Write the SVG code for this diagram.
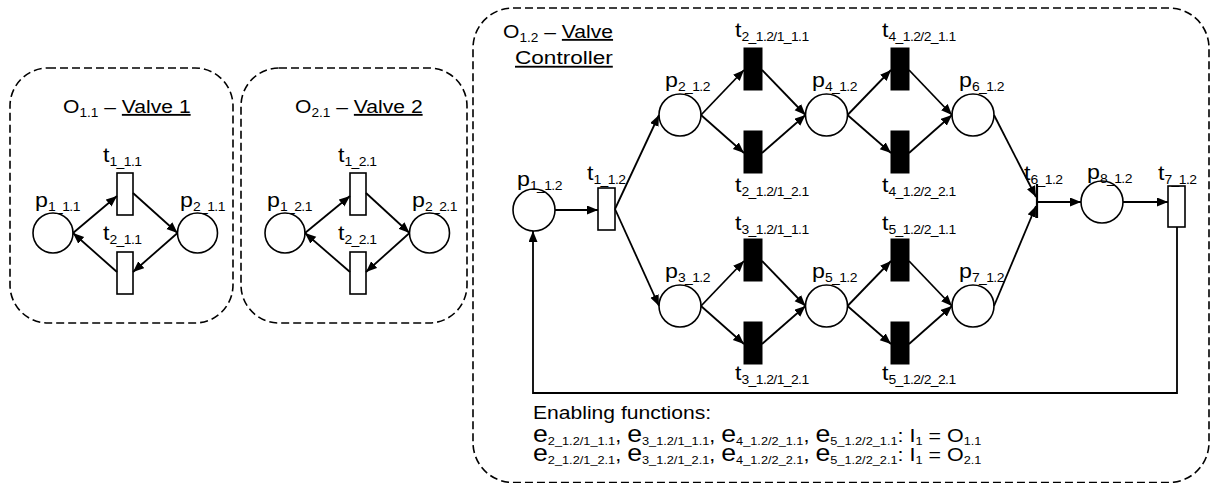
<svg xmlns="http://www.w3.org/2000/svg" width="1211" height="483" viewBox="0 0 1211 483">
  <style>
    text { font-family: "Liberation Sans", Arial, sans-serif; font-size: 18.5px; fill: #000; }
    .lb { font-size: 20px; }
    .s { font-size: 12px; letter-spacing: -0.5px; }
    .ts { font-size: 12px; }
    .e { font-size: 23px; }
    .es { font-size: 11px; }
    .u { text-decoration: underline; }
    .frame { fill: none; stroke: #000; stroke-width: 1.6; stroke-dasharray: 8 4; }
    .place { fill: #fff; stroke: #000; stroke-width: 1.6; }
    .trans { fill: #fff; stroke: #000; stroke-width: 1.6; }
    .trans-b { fill: #000; stroke: #000; stroke-width: 1; }
    .bar { stroke: #000; stroke-width: 2.2; }
    .arc { fill: none; stroke: #000; stroke-width: 1.8; marker-end: url(#head); }
  </style>
  <defs>
    <marker id="head" markerUnits="userSpaceOnUse" markerWidth="12" markerHeight="10" refX="11" refY="4.5" orient="auto">
      <path d="M0,0 L11,4.5 L0,9 z" fill="#000"/>
    </marker>
  </defs>
  <rect width="1211" height="483" fill="#fff"/>

  <!-- Valve 1 module -->
  <g id="valve1">
    <rect class="frame" x="10" y="68" width="223" height="255" rx="38"/>
    <text transform="matrix(1.14 0 0 1 63 113)">O<tspan class="ts" dy="4">1.1</tspan><tspan dy="-4"> – </tspan><tspan class="u">Valve 1</tspan></text>
    <g id="p1_1_1"><circle class="place" cx="53" cy="233" r="20"/><text class="lb" transform="matrix(1.16 0 0 1 35 207)">p<tspan class="s" dy="4">1_1.1</tspan></text></g>
    <g id="p2_1_1"><circle class="place" cx="197.5" cy="233" r="20"/><text class="lb" transform="matrix(1.16 0 0 1 180 207)">p<tspan class="s" dy="4">2_1.1</tspan></text></g>
    <g id="t1_1_1"><rect class="trans" x="117" y="173" width="16" height="42"/><text class="lb" transform="matrix(1.16 0 0 1 103 162)">t<tspan class="s" dy="4">1_1.1</tspan></text></g>
    <g id="t2_1_1"><rect class="trans" x="117" y="252" width="16" height="42"/><text class="lb" transform="matrix(1.16 0 0 1 103 240)">t<tspan class="s" dy="4">2_1.1</tspan></text></g>
  </g>

  <!-- Valve 2 module -->
  <g id="valve2">
    <rect class="frame" x="241" y="68" width="226" height="255" rx="38"/>
    <text transform="matrix(1.14 0 0 1 295 113)">O<tspan class="ts" dy="4">2.1</tspan><tspan dy="-4"> – </tspan><tspan class="u">Valve 2</tspan></text>
    <g id="p1_2_1"><circle class="place" cx="285" cy="233" r="20"/><text class="lb" transform="matrix(1.16 0 0 1 267 207)">p<tspan class="s" dy="4">1_2.1</tspan></text></g>
    <g id="p2_2_1"><circle class="place" cx="429.5" cy="233" r="20"/><text class="lb" transform="matrix(1.16 0 0 1 412 207)">p<tspan class="s" dy="4">2_2.1</tspan></text></g>
    <g id="t1_2_1"><rect class="trans" x="350" y="173" width="16" height="42"/><text class="lb" transform="matrix(1.16 0 0 1 338 162)">t<tspan class="s" dy="4">1_2.1</tspan></text></g>
    <g id="t2_2_1"><rect class="trans" x="350" y="252" width="16" height="42"/><text class="lb" transform="matrix(1.16 0 0 1 338 240)">t<tspan class="s" dy="4">2_2.1</tspan></text></g>
  </g>

  <!-- Valve controller module -->
  <g id="controller">
    <rect class="frame" x="473" y="8" width="736" height="474.5" rx="40"/>
    <text transform="matrix(1.14 0 0 1 503 38)">O<tspan class="ts" dy="4">1.2</tspan><tspan dy="-4"> – </tspan><tspan class="u">Valve</tspan></text>
    <text transform="matrix(1.22 0 0 1 515 64)"><tspan class="u">Controller</tspan></text>
  </g>

  <g id="p1_1_2"><circle class="place" cx="534" cy="210" r="21"/><text class="lb" transform="matrix(1.16 0 0 1 517 186)">p<tspan class="s" dy="4">1_1.2</tspan></text></g>
  <g id="t1_1_2"><rect class="trans" x="598" y="188" width="17" height="42"/><text class="lb" transform="matrix(1.16 0 0 1 587 180)">t<tspan class="s" dy="4">1_1.2</tspan></text></g>
  <g id="p2_1_2"><circle class="place" cx="680" cy="115" r="21"/><text class="lb" transform="matrix(1.16 0 0 1 665 87)">p<tspan class="s" dy="4">2_1.2</tspan></text></g>
  <g id="p3_1_2"><circle class="place" cx="680" cy="306" r="21"/><text class="lb" transform="matrix(1.16 0 0 1 665 278)">p<tspan class="s" dy="4">3_1.2</tspan></text></g>
  <g id="t2_a"><rect class="trans-b" x="744" y="48" width="18" height="42"/><text class="lb" transform="matrix(1.16 0 0 1 735 37)">t<tspan class="s" dy="4">2_1.2/1_1.1</tspan></text></g>
  <g id="t2_b"><rect class="trans-b" x="744" y="131" width="18" height="42"/><text class="lb" transform="matrix(1.16 0 0 1 735 192)">t<tspan class="s" dy="4">2_1.2/1_2.1</tspan></text></g>
  <g id="t3_a"><rect class="trans-b" x="744" y="239" width="18" height="42"/><text class="lb" transform="matrix(1.16 0 0 1 735 230)">t<tspan class="s" dy="4">3_1.2/1_1.1</tspan></text></g>
  <g id="t3_b"><rect class="trans-b" x="744" y="322" width="18" height="42"/><text class="lb" transform="matrix(1.16 0 0 1 735 380)">t<tspan class="s" dy="4">3_1.2/1_2.1</tspan></text></g>
  <g id="p4_1_2"><circle class="place" cx="826.5" cy="115" r="21"/><text class="lb" transform="matrix(1.16 0 0 1 812 87)">p<tspan class="s" dy="4">4_1.2</tspan></text></g>
  <g id="p5_1_2"><circle class="place" cx="826.5" cy="306" r="21"/><text class="lb" transform="matrix(1.16 0 0 1 812 278)">p<tspan class="s" dy="4">5_1.2</tspan></text></g>
  <g id="t4_a"><rect class="trans-b" x="891" y="48" width="18" height="42"/><text class="lb" transform="matrix(1.16 0 0 1 882 37)">t<tspan class="s" dy="4">4_1.2/2_1.1</tspan></text></g>
  <g id="t4_b"><rect class="trans-b" x="891" y="131" width="18" height="42"/><text class="lb" transform="matrix(1.16 0 0 1 882 192)">t<tspan class="s" dy="4">4_1.2/2_2.1</tspan></text></g>
  <g id="t5_a"><rect class="trans-b" x="891" y="239" width="18" height="42"/><text class="lb" transform="matrix(1.16 0 0 1 882 230)">t<tspan class="s" dy="4">5_1.2/2_1.1</tspan></text></g>
  <g id="t5_b"><rect class="trans-b" x="891" y="322" width="18" height="42"/><text class="lb" transform="matrix(1.16 0 0 1 882 380)">t<tspan class="s" dy="4">5_1.2/2_2.1</tspan></text></g>
  <g id="p6_1_2"><circle class="place" cx="973" cy="115" r="21"/><text class="lb" transform="matrix(1.16 0 0 1 959 87)">p<tspan class="s" dy="4">6_1.2</tspan></text></g>
  <g id="p7_1_2"><circle class="place" cx="973" cy="306" r="21"/><text class="lb" transform="matrix(1.16 0 0 1 959 278)">p<tspan class="s" dy="4">7_1.2</tspan></text></g>
  <g id="t6_1_2"><line class="bar" x1="1037" y1="184" x2="1037" y2="218"/><text class="lb" transform="matrix(1.16 0 0 1 1024 180)">t<tspan class="s" dy="4">6_1.2</tspan></text></g>
  <g id="p8_1_2"><circle class="place" cx="1102" cy="202" r="21"/><text class="lb" transform="matrix(1.16 0 0 1 1087 179)">p<tspan class="s" dy="4">8_1.2</tspan></text></g>
  <g id="t7_1_2"><rect class="trans" x="1168" y="186" width="17" height="41"/><text class="lb" transform="matrix(1.16 0 0 1 1158 180)">t<tspan class="s" dy="4">7_1.2</tspan></text></g>

  <!-- Enabling functions legend -->
  <g id="enabling">
    <text transform="matrix(1.14 0 0 1 533 419)">Enabling functions:</text>
    <text transform="matrix(1.16 0 0 1 533 442)"><tspan class="e">e</tspan><tspan class="es" dy="3">2_1.2/1_1.1</tspan><tspan dy="-3">, </tspan><tspan class="e">e</tspan><tspan class="es" dy="3">3_1.2/1_1.1</tspan><tspan dy="-3">, </tspan><tspan class="e">e</tspan><tspan class="es" dy="3">4_1.2/2_1.1</tspan><tspan dy="-3">, </tspan><tspan class="e">e</tspan><tspan class="es" dy="3">5_1.2/2_1.1</tspan><tspan dy="-3">: I</tspan><tspan class="es" dy="3">1</tspan><tspan dy="-3"> = O</tspan><tspan class="es" dy="3">1.1</tspan><tspan class="e" x="0" y="19">e</tspan><tspan class="es" dy="3">2_1.2/1_2.1</tspan><tspan dy="-3">, </tspan><tspan class="e">e</tspan><tspan class="es" dy="3">3_1.2/1_2.1</tspan><tspan dy="-3">, </tspan><tspan class="e">e</tspan><tspan class="es" dy="3">4_1.2/2_2.1</tspan><tspan dy="-3">, </tspan><tspan class="e">e</tspan><tspan class="es" dy="3">5_1.2/2_2.1</tspan><tspan dy="-3">: I</tspan><tspan class="es" dy="3">1</tspan><tspan dy="-3"> = O</tspan><tspan class="es" dy="3">2.1</tspan></text>
  </g>

  <!-- Arcs -->
  <g id="connectors">
    <!-- valve 1 -->
    <path class="arc" d="M73,233 L117,196"/>
    <path class="arc" d="M133,193 L177.5,233"/>
    <path class="arc" d="M177.5,233 L133,272"/>
    <path class="arc" d="M117,272 L73,233"/>
    <!-- valve 2 -->
    <path class="arc" d="M305,233 L350,196"/>
    <path class="arc" d="M366,193 L409.5,233"/>
    <path class="arc" d="M409.5,233 L366,272"/>
    <path class="arc" d="M350,272 L305,233"/>
    <!-- controller -->
    <path class="arc" d="M555,210 L598,210"/>
    <path class="arc" d="M615,209 L659,115"/>
    <path class="arc" d="M615,209 L659,306"/>
    <path class="arc" d="M701,115 L744,70"/>
    <path class="arc" d="M701,115 L744,153"/>
    <path class="arc" d="M762,70 L805.5,115"/>
    <path class="arc" d="M762,153 L805.5,115"/>
    <path class="arc" d="M701,306 L744,261"/>
    <path class="arc" d="M701,306 L744,344"/>
    <path class="arc" d="M762,261 L805.5,306"/>
    <path class="arc" d="M762,344 L805.5,306"/>
    <path class="arc" d="M847.5,115 L891,70"/>
    <path class="arc" d="M847.5,115 L891,153"/>
    <path class="arc" d="M909,70 L952,115"/>
    <path class="arc" d="M909,153 L952,115"/>
    <path class="arc" d="M847.5,306 L891,261"/>
    <path class="arc" d="M847.5,306 L891,344"/>
    <path class="arc" d="M909,261 L952,306"/>
    <path class="arc" d="M909,344 L952,306"/>
    <path class="arc" d="M994,115 L1036,197"/>
    <path class="arc" d="M994,306 L1036,206"/>
    <path class="arc" d="M1037,202 L1081,202"/>
    <path class="arc" d="M1123,202 L1168,202"/>
    <path class="arc" d="M1177,227 L1177,393 L533,393 L533,231"/>
  </g>
</svg>
